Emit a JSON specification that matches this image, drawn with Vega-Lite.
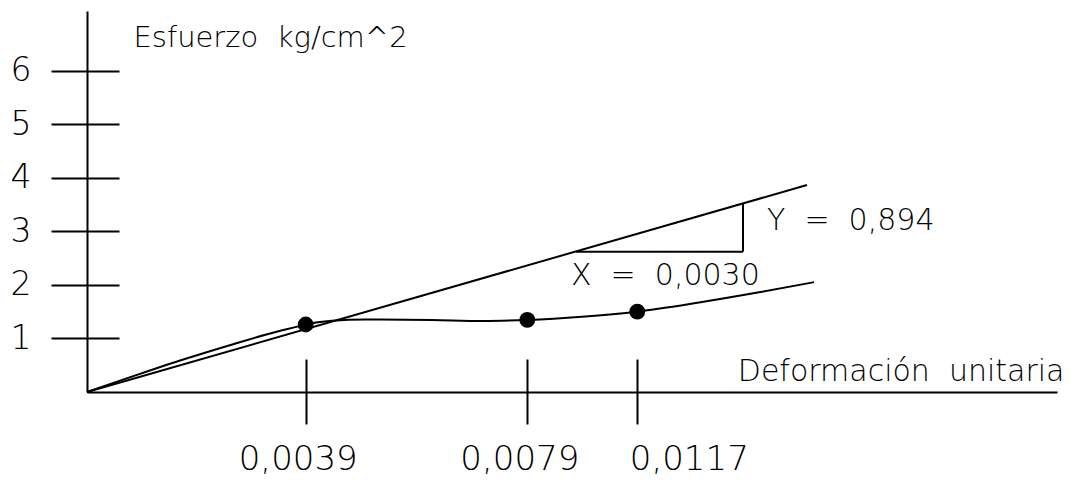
{
  "$schema": "https://vega.github.io/schema/vega-lite/v6.json",
  "width": 970,
  "height": 381,
  "autosize": {"type": "none"},
  "padding": {"left": 87, "top": 11, "right": 18, "bottom": 88},
  "background": "white",
  "config": {
    "view": {"stroke": null},
    "font": "DejaVu Sans",
    "axis": {
      "grid": false,
      "domainColor": "black",
      "domainWidth": 2,
      "tickColor": "black",
      "tickWidth": 2,
      "labelColor": "black",
      "titleColor": "black",
      "labelFont": "DejaVu Sans",
      "titleFont": "DejaVu Sans",
      "labelFontWeight": 200,
      "titleFontWeight": 200
    }
  },
  "datasets": {
    "puntos": [
      {"x": 0.0039, "y": 1.26},
      {"x": 0.0079, "y": 1.345},
      {"x": 0.0117, "y": 1.50}
    ],
    "curva": [
      {"x": 0, "y": 0},
      {"x": 0.000838, "y": 0.30},
      {"x": 0.00173, "y": 0.61},
      {"x": 0.002621, "y": 0.896},
      {"x": 0.003215, "y": 1.077},
      {"x": 0.00375, "y": 1.22},
      {"x": 0.0039, "y": 1.26},
      {"x": 0.004375, "y": 1.33},
      {"x": 0.004983, "y": 1.355},
      {"x": 0.00618, "y": 1.345},
      {"x": 0.007082, "y": 1.325},
      {"x": 0.0079, "y": 1.345},
      {"x": 0.00979, "y": 1.405},
      {"x": 0.0117, "y": 1.50},
      {"x": 0.012806, "y": 1.67},
      {"x": 0.013881, "y": 1.86},
      {"x": 0.014867, "y": 2.05}
    ],
    "secante": [
      {"x": 0, "y": 0, "x2": 0.01474, "y2": 3.863}
    ],
    "triangulo": [
      {"xa": 0.009582, "xb": 0.013594, "ya": 2.618, "yb": 3.512, "etX": "X\u00a0 =\u00a0 0,0030", "etY": "Y\u00a0 =\u00a0 0,894"}
    ]
  },
  "layer": [
    {
      "data": {"name": "puntos"},
      "mark": {"type": "point", "filled": true, "opacity": 1, "color": "black", "size": 250},
      "encoding": {
        "x": {
          "field": "x",
          "type": "quantitative",
          "scale": {
            "domain": [0, 0.0039, 0.0079, 0.0117, 0.01922],
            "range": [0, 218.7, 440.3, 550.3, 970],
            "nice": false,
            "zero": false
          },
          "axis": {
            "orient": "bottom",
            "values": [0.0039, 0.0079, 0.0117],
            "tickSize": 32,
            "labelFontSize": 34,
            "labelPadding": 18,
            "labelOffset": -8,
            "labelAlign": {"condition": {"test": "datum.value > 0.01", "value": "left"}, "value": "center"},
            "labelExpr": "replace(format(datum.value, '.4f'), '.', ',')",
            "labelOverlap": false,
            "labelFlush": false,
            "title": "Deformación\u00a0 unitaria",
            "titleFontSize": 30,
            "titleX": 977,
            "titleY": -12,
            "titleAlign": "right",
            "titleBaseline": "alphabetic"
          }
        },
        "y": {
          "field": "y",
          "type": "quantitative",
          "scale": {"domain": [0, 7.111], "nice": false},
          "axis": {
            "orient": "left",
            "values": [1, 2, 3, 4, 5, 6],
            "format": "d",
            "tickSize": 36,
            "labelFontSize": 33,
            "labelPadding": 20,
            "title": "Esfuerzo\u00a0 kg/cm^2",
            "titleAngle": 0,
            "titleFontSize": 29,
            "titleX": 46,
            "titleY": 35,
            "titleAlign": "left",
            "titleBaseline": "alphabetic"
          }
        }
      }
    },
    {
      "data": {"name": "curva"},
      "mark": {"type": "line", "color": "black", "strokeWidth": 2, "interpolate": "monotone"},
      "encoding": {
        "x": {
          "field": "x",
          "type": "quantitative",
          "axis": {
            "orient": "top",
            "offset": -381,
            "values": [0.0039, 0.0079, 0.0117],
            "tickSize": 33,
            "labels": false,
            "domain": false,
            "title": null
          }
        },
        "y": {
          "field": "y",
          "type": "quantitative",
          "axis": {
            "orient": "right",
            "offset": -970,
            "values": [1, 2, 3, 4, 5, 6],
            "tickSize": 32,
            "labels": false,
            "domain": false,
            "title": null
          }
        }
      }
    },
    {
      "data": {"name": "secante"},
      "mark": {"type": "rule", "color": "black", "strokeWidth": 2},
      "encoding": {
        "x": {"field": "x", "type": "quantitative", "axis": null},
        "y": {"field": "y", "type": "quantitative", "axis": null},
        "x2": {"field": "x2"},
        "y2": {"field": "y2"}
      }
    },
    {
      "data": {"name": "triangulo"},
      "mark": {"type": "rule", "color": "black", "strokeWidth": 2},
      "encoding": {
        "x": {"field": "xa", "type": "quantitative", "axis": null},
        "x2": {"field": "xb"},
        "y": {"field": "ya", "type": "quantitative", "axis": null}
      }
    },
    {
      "data": {"name": "triangulo"},
      "mark": {"type": "rule", "color": "black", "strokeWidth": 2},
      "encoding": {
        "x": {"field": "xb", "type": "quantitative", "axis": null},
        "y": {"field": "ya", "type": "quantitative", "axis": null},
        "y2": {"field": "yb"}
      }
    },
    {
      "data": {"name": "triangulo"},
      "mark": {"type": "text", "align": "left", "baseline": "alphabetic", "dx": -5, "dy": 33, "fontSize": 30, "fontWeight": 200, "font": "DejaVu Sans", "color": "black"},
      "encoding": {
        "x": {"field": "xa", "type": "quantitative", "axis": null},
        "y": {"field": "ya", "type": "quantitative", "axis": null},
        "text": {"field": "etX"}
      }
    },
    {
      "data": {"name": "triangulo"},
      "mark": {"type": "text", "align": "left", "baseline": "alphabetic", "dx": 24, "dy": 26, "fontSize": 30, "fontWeight": 200, "font": "DejaVu Sans", "color": "black"},
      "encoding": {
        "x": {"field": "xb", "type": "quantitative", "axis": null},
        "y": {"field": "yb", "type": "quantitative", "axis": null},
        "text": {"field": "etY"}
      }
    }
  ],
  "resolve": {"axis": {"x": "independent", "y": "independent"}}
}
